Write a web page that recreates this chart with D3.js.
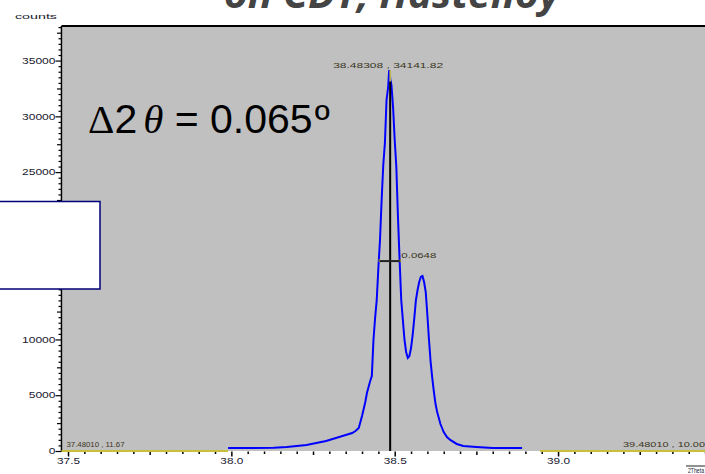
<!DOCTYPE html>
<html>
<head>
<meta charset="utf-8">
<script src="https://cdn.jsdelivr.net/npm/d3@7"></script>
<style>
  body { margin: 0; background: #fff; }
  svg { display: block; }
</style>
</head>
<body>
<svg id="chart" width="705" height="474"></svg>
<script>
// Diffraction scan: 2θ (degrees) and detector counts
const twoTheta = [
  37.990, 38.050, 38.130, 38.170, 38.200, 38.230, 38.260, 38.290, 38.320, 38.350,
  38.370, 38.380, 38.390, 38.395, 38.400, 38.405, 38.410, 38.415, 38.420, 38.425,
  38.430, 38.435, 38.440, 38.445, 38.450, 38.455, 38.460, 38.465, 38.470, 38.475,
  38.480, 38.48308, 38.487, 38.490, 38.495, 38.500, 38.505, 38.510, 38.515, 38.520,
  38.525, 38.530, 38.535, 38.540, 38.545, 38.550, 38.555, 38.560, 38.565, 38.570,
  38.575, 38.580, 38.585, 38.590, 38.595, 38.600, 38.605, 38.610, 38.615, 38.620,
  38.625, 38.630, 38.640, 38.650, 38.660, 38.670, 38.690, 38.710, 38.750, 38.800,
  38.890
];
const counts = [
  270, 270, 300, 360, 450, 540, 720, 900, 1170, 1430,
  1610, 1790, 2060, 2600, 3140, 3770, 4390, 5200, 5740, 6280,
  6720, 9950, 11920, 13540, 16400, 18920, 22500, 25640, 27610, 31470,
  32630, 34141.82, 33260, 32810, 30840, 27880, 25460, 20980, 17120, 13540,
  11740, 9950, 8880, 8340, 8520, 9230, 10400, 11920, 13540, 14430,
  15150, 15600, 15690, 15150, 14250, 12190, 9950, 7980, 6540, 5290,
  4210, 3500, 2420, 1700, 1255, 990, 630, 450, 360, 270,
  270
];

// Peak search result and width
const peakPos = 38.48308;
const peakCounts = 34141.82;
const fwhm = 0.0648;
const halfMaxLeft = 38.4525;

// Axis ranges and labels
const xDomain = [37.4801, 39.4801];
const yDomain = [0, 38100];
const xTickLabels = ["37.5", "38.0", "38.5", "39.0"];
const xTickValues = [37.5, 38.0, 38.5, 39.0];
const yTickValues = [0, 5000, 10000, 15000, 20000, 25000, 30000, 35000];
const yTickLabels = ["0", "5000", "10000", "15000", "20000", "25000", "30000", "35000"];

// Background level segments outside the measured peak window
const bkgRanges = [[37.4801, 37.99], [38.945, 39.4801]];

// Marker texts
const startLabel = "37.48010 , 11.67";
const endLabel = "39.48010 , 10.00";
const peakLabel = "38.48308 , 34141.82";
const fwhmLabel = "0.0648";
const titleText = "on CDT, Hastelloy";
const yAxisTitle = "counts";
const xAxisTitle = "2Theta";

const svg = d3.select("#chart");
const W = 705;

const x = d3.scaleLinear().domain(xDomain).range([61.5, 61.5 + 2 * 326.7]);
const y = d3.scaleLinear().domain(yDomain).range([451, 26]);

// Title (runs off the top edge)
svg.append("text")
  .attr("x", 224).attr("y", 8)
  .attr("font-family", "Open Sans")
  .attr("font-weight", "bold")
  .attr("font-style", "italic")
  .attr("font-size", 40)
  .attr("fill", "#444")
  .attr("textLength", 336)
  .attr("lengthAdjust", "spacingAndGlyphs")
  .text(titleText);

// Plot background
svg.append("rect")
  .attr("x", x(xDomain[0]) + 1).attr("y", y(yDomain[1]))
  .attr("width", W - x(xDomain[0])).attr("height", y(0) - y(yDomain[1]))
  .attr("fill", "#c0c0c0");

// Top frame line
svg.append("line")
  .attr("x1", x(xDomain[0])).attr("x2", W)
  .attr("y1", y(yDomain[1])).attr("y2", y(yDomain[1]))
  .attr("stroke", "#000").attr("stroke-width", 2);

const tickFont = "Liberation Sans";
const tickColor = "#1a1a30";

// Y axis: minor, medium and major ticks
function yAxisLayer(values, size, labels) {
  const ax = d3.axisLeft(y).tickValues(values).tickSize(size).tickPadding(0)
    .tickFormat((d, i) => labels ? labels[i] : "");
  const g = svg.append("g").attr("transform", `translate(${x(xDomain[0])},0)`).call(ax);
  g.select(".domain").remove();
  g.selectAll(".tick line").attr("stroke", "#000").attr("stroke-width", 1.2);
  g.selectAll(".tick text")
    .attr("font-family", tickFont).attr("font-size", 8.5).attr("fill", tickColor)
    .attr("textLength", d => String(d).length * 6.7)
    .attr("lengthAdjust", "spacingAndGlyphs");
  return g;
}
yAxisLayer(d3.range(0, yDomain[1], 500).filter(v => v % 2500 !== 0), 3);
yAxisLayer(d3.range(0, yDomain[1], 2500).filter(v => v % 5000 !== 0), 4.5);
yAxisLayer(yTickValues, 6, yTickLabels);

svg.append("line")
  .attr("x1", x(xDomain[0])).attr("x2", x(xDomain[0]))
  .attr("y1", y(yDomain[1])).attr("y2", y(0) + 1)
  .attr("stroke", "#000").attr("stroke-width", 1.6);

// X axis: minor, medium and major ticks
function xAxisLayer(values, size, labels) {
  const ax = d3.axisBottom(x).tickValues(values).tickSize(size).tickPadding(1)
    .tickFormat((d, i) => labels ? labels[i] : "");
  const g = svg.append("g").attr("transform", `translate(0,${y(0) + 0.5})`).call(ax);
  g.select(".domain").remove();
  g.selectAll(".tick line").attr("stroke", "#000").attr("stroke-width", 1.5);
  g.selectAll(".tick text")
    .attr("font-family", tickFont).attr("font-size", 8.5).attr("fill", tickColor)
    .attr("textLength", 23).attr("lengthAdjust", "spacingAndGlyphs");
  return g;
}
const minorX = d3.range(0, 41).map(i => 37.5 + i * 0.05).filter((v, i) => i % 5 !== 0);
xAxisLayer(minorX, 2.5);
xAxisLayer([37.75, 38.25, 38.75, 39.25], 3.5);
xAxisLayer(xTickValues, 5, xTickLabels);

// Background level (yellow) where no scan data
bkgRanges.forEach(r => {
  svg.append("line")
    .attr("x1", x(r[0])).attr("x2", x(r[1]))
    .attr("y1", y(0)).attr("y2", y(0))
    .attr("stroke", "#c8c03a").attr("stroke-width", 2);
});

// Measured profile
const pts = twoTheta.map((t, i) => [t, counts[i]]);
const line = d3.line().x(d => x(d[0])).y(d => y(d[1]));
svg.append("path")
  .datum(pts)
  .attr("d", line)
  .attr("fill", "none")
  .attr("stroke", "#0000ff")
  .attr("stroke-width", 2)
  .attr("stroke-linejoin", "miter");

// Peak marker
const px = x(peakPos) + 1;
svg.append("line")
  .attr("x1", px).attr("x2", px)
  .attr("y1", y(peakCounts * 0.97)).attr("y2", y(0))
  .attr("stroke", "#000").attr("stroke-width", 2);
svg.append("line")
  .attr("x1", px).attr("x2", px)
  .attr("y1", y(peakCounts)).attr("y2", y(peakCounts * 0.97))
  .attr("stroke", "#c8c03a").attr("stroke-width", 1.5);

// FWHM bar
const hy = y(peakCounts / 2) + 0.5;
const hx1 = x(halfMaxLeft), hx2 = x(halfMaxLeft + fwhm);
svg.append("line")
  .attr("x1", hx1).attr("x2", hx2).attr("y1", hy).attr("y2", hy)
  .attr("stroke", "#222").attr("stroke-width", 2);
[hx1, hx2].forEach(hx => {
  svg.append("line")
    .attr("x1", hx).attr("x2", hx).attr("y1", hy - 2).attr("y2", hy + 1)
    .attr("stroke", "#8a7f30").attr("stroke-width", 1.2);
});

// Small marker labels
function smallLabel(txt, lx, ly, len, color) {
  svg.append("text")
    .attr("x", lx).attr("y", ly)
    .attr("font-family", tickFont).attr("font-size", 7.5)
    .attr("fill", color || "#3a3520")
    .attr("textLength", len).attr("lengthAdjust", "spacingAndGlyphs")
    .text(txt);
}
smallLabel(peakLabel, x(peakPos) - 56, y(peakCounts) - 2.5, 110);
smallLabel(fwhmLabel, hx2 + 1, hy - 3, 35);
smallLabel(startLabel, x(xDomain[0]) + 5, y(0) - 4, 58);
smallLabel(endLabel, 623, y(0) - 4, 82);

// Axis titles
smallLabel(yAxisTitle, 15, 19, 42, "#1a1a30");
svg.append("line").attr("x1", 686).attr("x2", 705).attr("y1", 466).attr("y2", 466)
  .attr("stroke", "#222").attr("stroke-width", 1);
smallLabel(xAxisTitle, 688, 473, 16, "#1a1a30");

// White box covering part of the left axis
svg.append("rect")
  .attr("x", -2).attr("y", 201.5).attr("width", 102).attr("height", 87.5)
  .attr("fill", "#fff").attr("stroke", "#00007a").attr("stroke-width", 1.5);

// Peak splitting annotation
const ann = svg.append("text")
  .attr("x", 88).attr("y", 133)
  .attr("font-size", 41).attr("fill", "#000");
ann.append("tspan").attr("font-family", "Liberation Serif").text("Δ");
ann.append("tspan").attr("font-family", "Liberation Sans").text("2");
ann.append("tspan").attr("font-family", "Liberation Serif").attr("font-style", "italic").attr("dx", 6).text("θ");
ann.append("tspan").attr("font-family", "Liberation Sans").text(" = 0.065");
ann.append("tspan").attr("font-family", "Liberation Sans").attr("dx", 2).text("º");
</script>
</body>
</html>
